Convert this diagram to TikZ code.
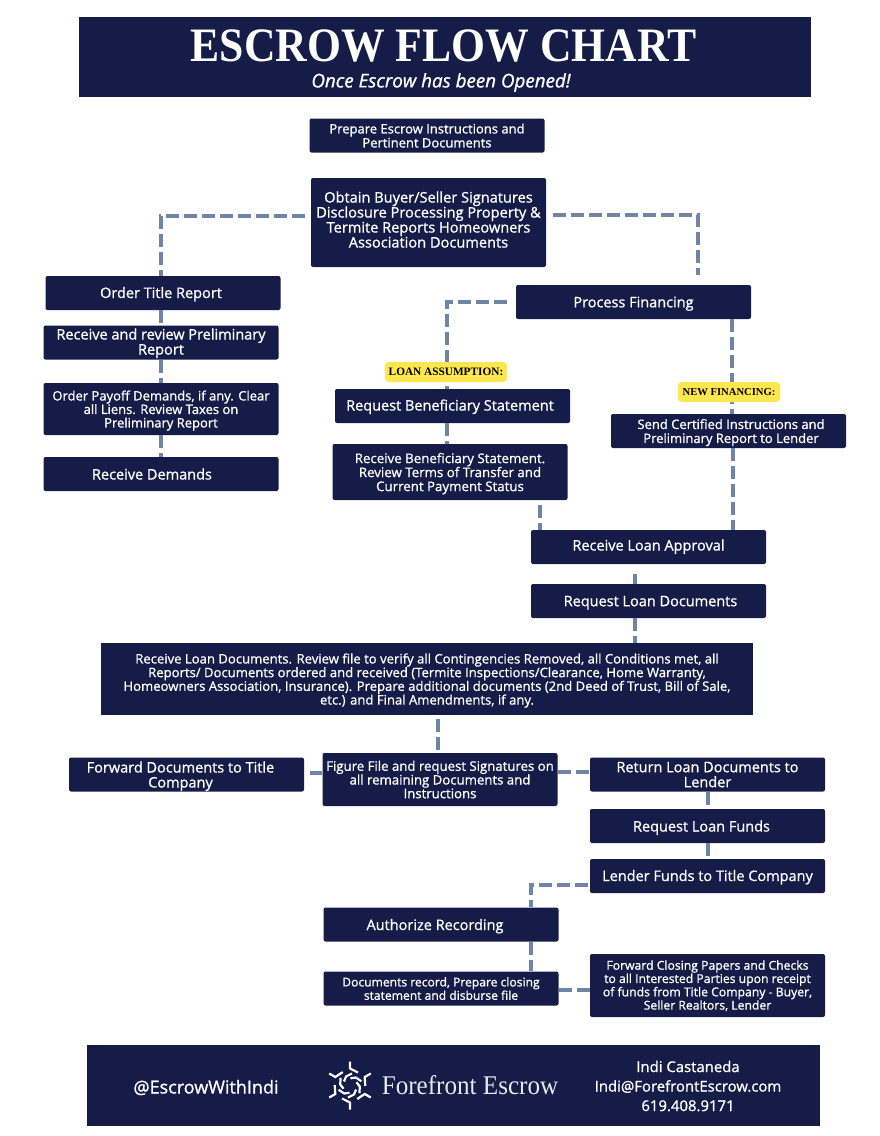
\documentclass[tikz,border=0pt]{standalone}
\usepackage{fontspec}
\setmainfont[FakeBold=1]{Open Sans}
\newfontfamily\headfont[FakeStretch=0.91]{Liberation Serif}
\newfontfamily\tagfont{Liberation Serif}
\newfontfamily\brandfont[FakeStretch=0.93]{Liberation Serif}
\definecolor{esc_navy}{HTML}{141C47}
\definecolor{esc_line}{HTML}{6E85A8}
\definecolor{esc_tag}{HTML}{FDE74F}
\newcommand{\escsize}[2]{\fontsize{#1}{#2}\selectfont}
\begin{document}
\begin{tikzpicture}[x=1pt, y=-1pt]
        \tikzstyle{esc_box}  = [shape = rectangle, fill = esc_navy, text = white, rounded corners = 2pt, align = center, inner sep = 0pt, text depth = 0pt, minimum width = 235pt, minimum height = 34pt, font = \escsize{14.5}{15}]
        \tikzstyle{esc_band} = [shape = rectangle, fill = esc_navy, text = white, align = center, inner sep = 0pt]
        \tikzstyle{esc_tag}  = [shape = rectangle, fill = esc_tag, rounded corners = 4pt, inner sep = 0pt, minimum height = 20pt]
        \tikzstyle{esc_link} = [draw = esc_line, line width = 3.6pt, dash pattern = on 13pt off 5pt]
        \tikzstyle{esc_text} = [text = white, align = center, inner sep = 0pt]

        \useasboundingbox (0, 0) rectangle (880, 1136);

        \node[esc_band, minimum width = 732pt, minimum height = 80pt] at (445, 57) (head) {};
        \node[esc_text, font = \headfont\bfseries\escsize{48}{48}] at (443.5, 46) (head_title) {ESCROW FLOW CHART};
        \node[esc_text, font = \itshape\escsize{18.8}{19}] at (441, 82.5) (head_sub) {Once Escrow has been Opened!};

        \node[esc_box, font = \escsize{13}{14}, text depth = -2pt] at (427, 135.5) (prepare) {Prepare Escrow Instructions and\\Pertinent Documents};
        \node[esc_box, font = \escsize{14.6}{15}, text depth = 6pt, minimum height = 89pt] at (428.5, 222.5) (obtain) {Obtain Buyer/Seller Signatures\\Disclosure Processing Property \&\\Termite Reports Homeowners\\Association Documents};

        \node[esc_box, text depth = 1pt] at (163, 293) (title_report) {Order Title Report\hspace*{4pt}};
        \node[esc_box, text depth = 2pt] at (161, 342.5) (review) {Receive and review Preliminary\\Report};
        \node[esc_box, font = \escsize{13}{13.5}, text depth = -2pt, minimum height = 52pt] at (161, 409) (payoff) {Order Payoff Demands, if any. Clear\\all Liens. Review Taxes on\\Preliminary Report};
        \node[esc_box] at (161, 474) (demands) {Receive Demands\hspace*{18pt}};

        \node[esc_box] at (633.5, 302) (financing) {Process Financing};
        \node[esc_box, text depth = 2pt] at (452.5, 406) (request_ben) {Request Beneficiary Statement\hspace*{5pt}};
        \node[esc_box, font = \escsize{13.3}{14}, minimum height = 56pt] at (450, 472) (receive_ben) {Receive Beneficiary Statement.\\Review Terms of Transfer and\\Current Payment Status};
        \node[esc_box, font = \escsize{13}{14}] at (728.5, 431) (certified) {\hspace*{5pt}Send Certified Instructions and\\\hspace*{5pt}Preliminary Report to Lender};

        \node[esc_box, text depth = 4pt] at (648.5, 547) (approval) {Receive Loan Approval};
        \node[esc_box] at (648.5, 601) (request_docs) {\hspace*{4pt}Request Loan Documents};

        \node[esc_band, font = \escsize{13.1}{13.7}, text depth = -1.5pt, minimum width = 652pt, minimum height = 72pt] at (427, 679) (receive_docs) {Receive Loan Documents. Review file to verify all Contingencies Removed, all Conditions met, all\\Reports/ Documents ordered and received (Termite Inspections/Clearance, Home Warranty,\\Homeowners Association, Insurance). Prepare additional documents (2nd Deed of Trust, Bill of Sale,\\etc.) and Final Amendments, if any.};

        \node[esc_box] at (186.5, 774.5) (forward_docs) {Forward Documents to Title\hspace*{12pt}\\Company\hspace*{12pt}};
        \node[esc_box, font = \escsize{13.2}{13.7}, minimum height = 53pt] at (440, 779.5) (figure) {Figure File and request Signatures on\\all remaining Documents and\\Instructions};
        \node[esc_box] at (707.5, 774.5) (return_docs) {Return Loan Documents to\\Lender};
        \node[esc_box] at (707.5, 826) (funds) {Request Loan Funds\hspace*{12pt}};
        \node[esc_box, text depth = 1pt] at (707.5, 876) (lender) {Lender Funds to Title Company};
        \node[esc_box] at (441, 924.5) (authorize) {Authorize Recording\hspace*{12pt}};
        \node[esc_box, font = \escsize{12.1}{13.4}] at (441, 988.5) (record) {Documents record, Prepare closing\\statement and disburse file};
        \node[esc_box, font = \escsize{12.2}{13.3}, text depth = 1pt, minimum height = 63pt] at (707.5, 985.5) (closing) {Forward Closing Papers and Checks\\to all Interested Parties upon receipt\\of funds from Title Company - Buyer,\\Seller Realtors, Lender};

        \draw[esc_link] (305, 216) -- (161, 216) -- (161, 0 |- title_report.north);
        \draw[esc_link] (553, 215) -- (698, 215) -- (698, 275);
        \draw[esc_link] (507, 302) -- (447, 302) -- (447, 0 |- request_ben.north);
        \draw[esc_link] (588, 885) -- (531, 885) -- (531, 0 |- authorize.north);

        \draw[esc_link]
          (161, 0 |- title_report.south) edge (161, 0 |- review.north)
          (161, 0 |- review.south) edge (161, 0 |- payoff.north)
          (161, 0 |- payoff.south) edge (161, 0 |- demands.north)
          (447, 0 |- request_ben.south) edge (447, 0 |- receive_ben.north)
          (540, 505) edge (540, 0 |- approval.north)
          (732, 0 |- financing.south) edge (732, 0 |- certified.north)
          (733, 0 |- certified.south) edge (733, 0 |- approval.north)
          (635, 574) edge (635, 0 |- request_docs.north)
          (635, 0 |- request_docs.south) edge (635, 0 |- receive_docs.north)
          (438, 719) edge (438, 0 |- figure.north)
          (310, 773) edge (figure.west |- 0, 773)
          (figure.east |- 0, 772) edge (return_docs.west |- 0, 772)
          (708, 0 |- return_docs.south) edge (708, 0 |- funds.north)
          (708, 0 |- funds.south) edge (708, 0 |- lender.north)
          (531, 0 |- authorize.south) edge (531, 0 |- record.north)
          (record.east |- 0, 990) edge (closing.west |- 0, 990)
        ;

        \node[esc_tag, font = \tagfont\bfseries\escsize{11.3}{12}, minimum width = 122pt] at (446, 372) (tag_loan) {LOAN ASSUMPTION:};
        \node[esc_tag, font = \tagfont\bfseries\escsize{10.6}{12}, minimum width = 102pt] at (729, 392) (tag_new) {NEW FINANCING:};

        \node[esc_band, minimum width = 733pt, minimum height = 81pt] at (453.5, 1085.5) (foot) {};
        \node[esc_text, font = \escsize{18}{18}] at (206, 1087.5) (foot_handle) {@EscrowWithIndi};
        \node[esc_text, font = \brandfont\escsize{27}{27}, text = white!90!esc_navy] at (470, 1085) (foot_brand) {Forefront Escrow};
        \node[esc_text, font = \escsize{14.9}{19.5}] at (688, 1086) (foot_contact) {Indi Castaneda\\Indi@ForefrontEscrow.com\\619.408.9171};

        \foreach \a in {0, 60, ..., 300} {
          \draw[white, line width = 2.2pt, shift = {(350, 1085.5)}, rotate = \a] (0, -24) -- (0, -17) -- (8, -13);
          \draw[white, line width = 2.2pt, shift = {(350, 1085.5)}, rotate = \a] (2, -12) -- (-4, -9) -- (-6, -4);
        }
\end{tikzpicture}
\end{document}
